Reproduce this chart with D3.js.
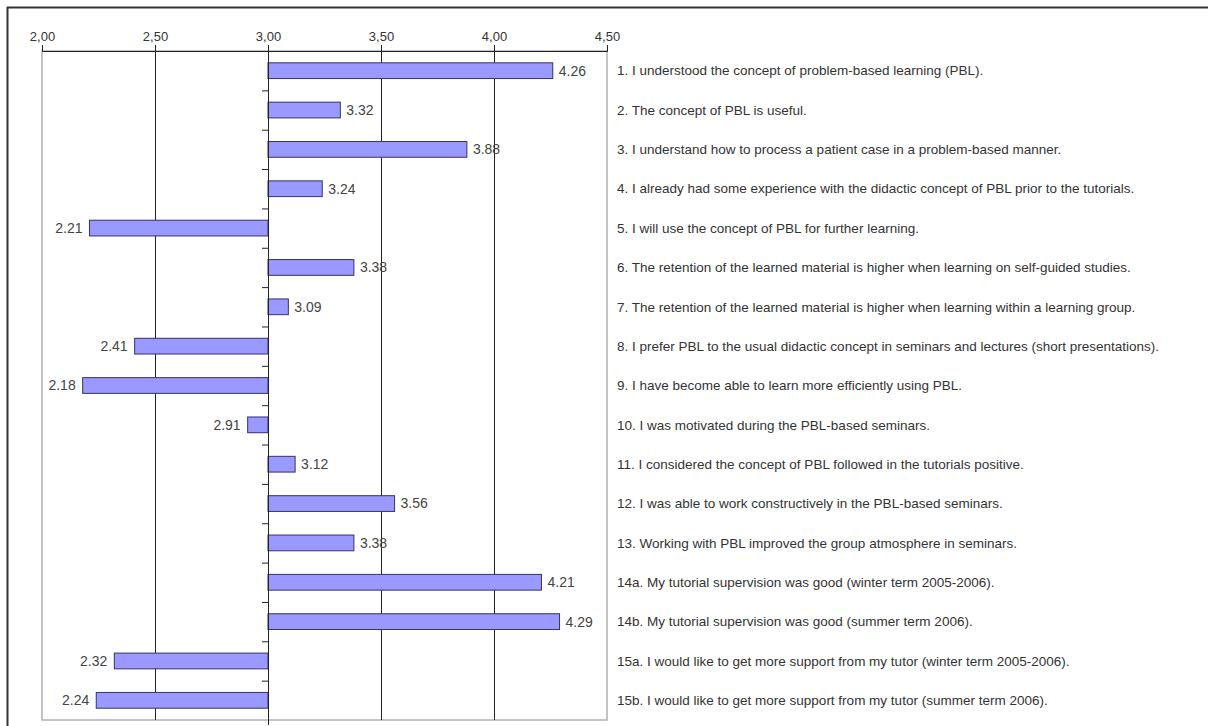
<!DOCTYPE html>
<html><head><meta charset="utf-8">
<script src="https://cdn.jsdelivr.net/npm/d3@7"></script>
<style>body{margin:0;background:#fff}svg{display:block}</style>
</head><body>
<svg id="c" width="1208" height="726"></svg>
<script>
const categories = [
"1. I understood the concept of problem-based learning (PBL).",
"2. The concept of PBL is useful.",
"3. I understand how to process a patient case in a problem-based manner.",
"4. I already had some experience with the didactic concept of PBL prior to the tutorials.",
"5. I will use the concept of PBL for further learning.",
"6. The retention of the learned material is higher when learning on self-guided studies.",
"7. The retention of the learned material is higher when learning within a learning group.",
"8. I prefer PBL to the usual didactic concept in seminars and lectures (short presentations).",
"9. I have become able to learn more efficiently using PBL.",
"10. I was motivated during the PBL-based seminars.",
"11. I considered the concept of PBL followed in the tutorials positive.",
"12. I was able to work constructively in the PBL-based seminars.",
"13. Working with PBL improved the group atmosphere in seminars.",
"14a. My tutorial supervision was good (winter term 2005-2006).",
"14b. My tutorial supervision was good (summer term 2006).",
"15a. I would like to get more support from my tutor (winter term 2005-2006).",
"15b. I would like to get more support from my tutor (summer term 2006)."
];
const values = [4.26,3.32,3.88,3.24,2.21,3.38,3.09,2.41,2.18,2.91,3.12,3.56,3.38,4.21,4.29,2.32,2.24];
const tickValues = [2.0,2.5,3.0,3.5,4.0,4.5];
const baseline = 3.0;

const svg = d3.select("#c");
const L=42, R=607, T=51, B=720;
const FONT = "Liberation Sans, Arial, sans-serif";
const x = d3.scaleLinear().domain([2,4.5]).range([L,R]);
const y = d3.scaleBand().domain(categories).range([T,B]).paddingInner(0.6).paddingOuter(0.3);
const yb = d3.scaleBand().domain(categories).range([T,B]);

// outer frame
svg.append("line").attr("x1",7).attr("x2",1208).attr("y1",7.5).attr("y2",7.5).attr("stroke","#333").attr("stroke-width",2);
svg.append("line").attr("x1",7.5).attr("x2",7.5).attr("y1",7).attr("y2",726).attr("stroke","#333").attr("stroke-width",2);

// plot border (gray)
svg.append("rect").attr("x",L).attr("y",T).attr("width",R-L).attr("height",B-T)
  .attr("fill","none").attr("stroke","#b0b0b0").attr("stroke-width",1.5);

// gridlines
svg.append("g").selectAll("line").data(tickValues.filter(v=>v>2&&v<4.5&&v!==baseline)).join("line")
  .attr("x1",d=>x(d)+0.5).attr("x2",d=>x(d)+0.5).attr("y1",T).attr("y2",B)
  .attr("stroke","#222").attr("stroke-width",1);

// top axis
const ax = svg.append("g").attr("transform",`translate(0,${T})`)
  .call(d3.axisTop(x).tickValues(tickValues).tickSize(6).tickPadding(4)
  .tickFormat(d=>d3.format(".2f")(d).replace(".",",")));
ax.select(".domain").attr("stroke","#222");
ax.selectAll(".tick line").attr("stroke","#222");
ax.selectAll("text").attr("font-family",FONT).attr("font-size",13).attr("fill","#333");

// bars
svg.append("g").selectAll("rect").data(values).join("rect")
  .attr("x",d=>x(Math.min(d,baseline))).attr("width",d=>Math.abs(x(d)-x(baseline)))
  .attr("y",(d,i)=>y(categories[i])).attr("height",y.bandwidth())
  .attr("fill","#9999ff").attr("stroke","#333366").attr("stroke-width",1);

// category axis at baseline
const cy = svg.append("g").attr("transform",`translate(${x(baseline)},0)`);
cy.append("line").attr("x1",0.5).attr("x2",0.5).attr("y1",T).attr("y2",B+5).attr("stroke","#222");
cy.selectAll("line.t").data(categories.slice(1)).join("line").attr("class","t")
  .attr("x1",-6).attr("x2",0).attr("y1",d=>yb(d)+0.5).attr("y2",d=>yb(d)+0.5).attr("stroke","#222");

// value labels
svg.append("g").selectAll("text").data(values).join("text")
  .attr("x",d=>d>=baseline? x(d)+6 : x(d)-7)
  .attr("text-anchor",d=>d>=baseline?"start":"end")
  .attr("y",(d,i)=>yb(categories[i])+yb.bandwidth()/2)
  .attr("dy","0.35em")
  .attr("font-family",FONT).attr("font-size",14).attr("fill","#444")
  .text(d=>d.toFixed(2));

// category labels
svg.append("g").selectAll("text").data(categories).join("text")
  .attr("x",R+10).attr("y",d=>yb(d)+yb.bandwidth()/2).attr("dy","0.35em")
  .attr("font-family",FONT).attr("font-size",13.5).attr("fill","#333")
  .text(d=>d);
</script>
</body></html>
